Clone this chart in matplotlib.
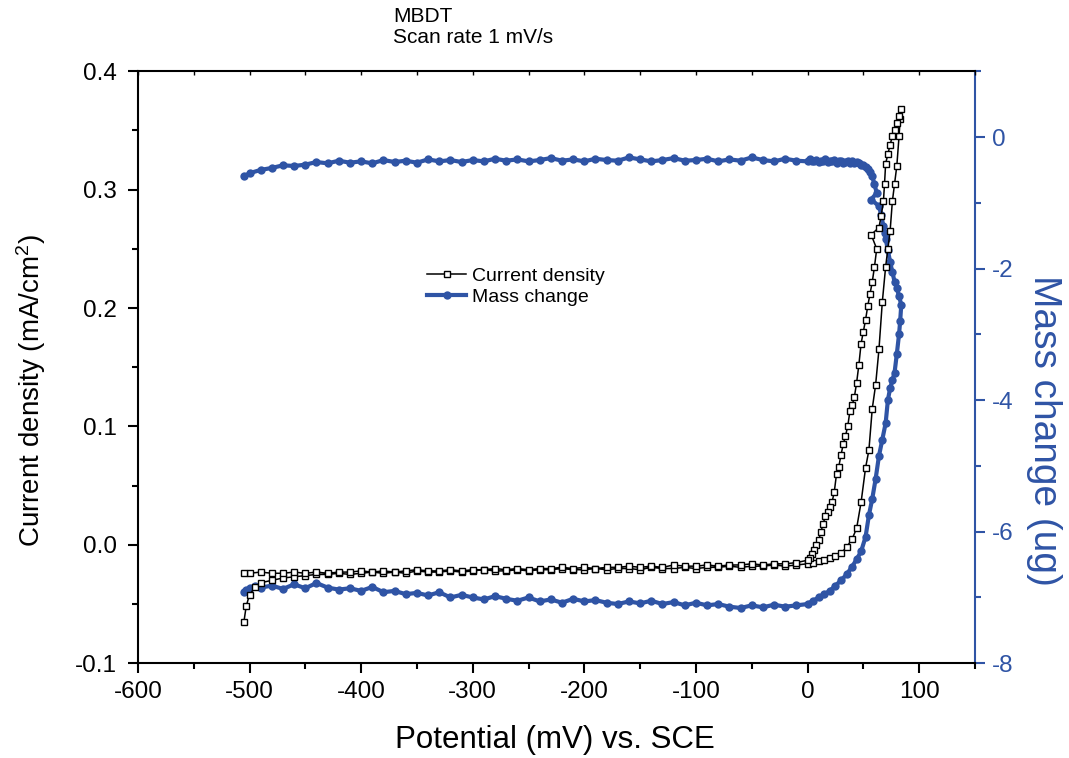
"""
    Current density and mass change (EQCM) versus potential for MBDT,
    scan rate 1 mV/s. Current on the left axis, mass on the right axis.
"""

import matplotlib.pyplot as plt
from matplotlib.ticker import MultipleLocator

# Forward scan (-505 mV -> +83 mV)
pot_fwd = [-505, -503, -500, -495, -490,
           -480, -470, -460, -450, -440, -430, -420, -410, -400, -390,
           -380, -370, -360, -350, -340, -330, -320, -310, -300, -290,
           -280, -270, -260, -250, -240, -230, -220, -210, -200, -190,
           -180, -170, -160, -150, -140, -130, -120, -110, -100, -90,
           -80, -70, -60, -50, -40, -30, -20, -10,
           0, 5, 10, 15, 20, 25, 30, 35, 40,
           44, 48, 52, 55, 58, 61, 64, 67, 70,
           72, 74, 76, 78, 80, 82, 83]

cur_fwd = [-0.065, -0.052, -0.042, -0.036, -0.032,
           -0.030, -0.028, -0.027, -0.026, -0.025, -0.025, -0.024, -0.025, -0.024, -0.023,
           -0.024, -0.023, -0.024, -0.022, -0.023, -0.023, -0.022, -0.023, -0.022, -0.021,
           -0.022, -0.022, -0.021, -0.022, -0.021, -0.021, -0.020, -0.021, -0.021, -0.020,
           -0.021, -0.020, -0.020, -0.021, -0.019, -0.020, -0.020, -0.019, -0.020, -0.019,
           -0.019, -0.018, -0.019, -0.018, -0.018, -0.017, -0.018, -0.017,
           -0.016, -0.015, -0.014, -0.013, -0.011, -0.009, -0.007, -0.002, 0.005,
           0.014, 0.036, 0.065, 0.080, 0.115, 0.135, 0.165, 0.205, 0.235,
           0.250, 0.265, 0.290, 0.305, 0.320, 0.345, 0.360]

mass_fwd = [-6.92, -6.88, -6.86, -6.83, -6.85,
            -6.82, -6.87, -6.80, -6.86, -6.78, -6.85, -6.88, -6.86, -6.90, -6.84,
            -6.92, -6.90, -6.95, -6.93, -6.97, -6.92, -7.00, -6.96, -7.00, -7.03,
            -6.98, -7.02, -7.05, -7.00, -7.06, -7.03, -7.08, -7.02, -7.06, -7.04,
            -7.08, -7.10, -7.06, -7.09, -7.05, -7.10, -7.07, -7.12, -7.08, -7.12,
            -7.10, -7.14, -7.16, -7.12, -7.15, -7.11, -7.14, -7.12,
            -7.10, -7.05, -7.00, -6.95, -6.90, -6.82, -6.74, -6.65, -6.53,
            -6.42, -6.30, -6.08, -5.75, -5.50, -5.20, -4.85, -4.60, -4.35,
            -4.00, -3.82, -3.70, -3.58, -3.30, -3.00, -2.80]

# Reverse scan (+84 mV -> -505 mV)
pot_rev = [84, 82, 80, 78, 76, 74, 72, 70, 69, 68,
           66, 64, 57, 62, 60, 58, 56, 54, 52, 50,
           48, 46, 44, 42, 40, 38, 36, 34, 32, 30,
           28, 26, 24, 22, 20, 18, 16, 14, 12, 10,
           8, 6, 4, 2, 0,
           -10, -20, -30, -40, -50, -60, -70, -80, -90, -100,
           -110, -120, -130, -140, -150, -160, -170, -180, -190, -200,
           -210, -220, -230, -240, -250, -260, -270, -280, -290, -300,
           -310, -320, -330, -340, -350, -360, -370, -380, -390, -400,
           -410, -420, -430, -440, -450, -460, -470, -480, -490, -500,
           -505]

cur_rev = [0.368, 0.362, 0.356, 0.350, 0.345, 0.338, 0.330, 0.322, 0.305, 0.290,
           0.278, 0.268, 0.262, 0.250, 0.235, 0.222, 0.212, 0.202, 0.190, 0.180,
           0.170, 0.152, 0.137, 0.125, 0.118, 0.113, 0.100, 0.092, 0.085, 0.076,
           0.066, 0.060, 0.045, 0.036, 0.032, 0.028, 0.024, 0.018, 0.011, 0.004,
           0.000, -0.004, -0.008, -0.011, -0.013,
           -0.015, -0.016, -0.016, -0.017, -0.016, -0.017, -0.017, -0.018, -0.017, -0.018,
           -0.018, -0.017, -0.019, -0.018, -0.019, -0.018, -0.019, -0.019, -0.020, -0.019,
           -0.020, -0.019, -0.020, -0.020, -0.021, -0.020, -0.021, -0.020, -0.021, -0.021,
           -0.022, -0.021, -0.022, -0.022, -0.021, -0.022, -0.023, -0.022, -0.023, -0.022,
           -0.023, -0.023, -0.024, -0.023, -0.024, -0.023, -0.024, -0.024, -0.023, -0.024,
           -0.024]

mass_rev = [-2.55, -2.42, -2.30, -2.20, -2.05, -1.90, -1.72, -1.55, -1.46, -1.36,
            -1.18, -1.05, -0.95, -0.85, -0.72, -0.60, -0.53, -0.48, -0.45, -0.43,
            -0.42, -0.40, -0.38, -0.40, -0.37, -0.39, -0.36, -0.38, -0.40, -0.37,
            -0.36, -0.39, -0.35, -0.37, -0.36, -0.38, -0.34, -0.37, -0.36, -0.38,
            -0.35, -0.37, -0.36, -0.34, -0.37,
            -0.36, -0.33, -0.37, -0.35, -0.31, -0.36, -0.34, -0.37, -0.33, -0.35,
            -0.36, -0.32, -0.35, -0.37, -0.34, -0.31, -0.36, -0.35, -0.33, -0.37,
            -0.34, -0.36, -0.32, -0.35, -0.37, -0.34, -0.36, -0.33, -0.37, -0.35,
            -0.38, -0.35, -0.37, -0.34, -0.39, -0.36, -0.38, -0.35, -0.40, -0.37,
            -0.39, -0.36, -0.40, -0.38, -0.42, -0.44, -0.43, -0.47, -0.50, -0.55,
            -0.60]

potential = pot_fwd + pot_rev
current = cur_fwd + cur_rev
mass = mass_fwd + mass_rev

blue = '#2f54a5'
tick_fs = 17.5

plt.rcParams['font.family'] = ['Liberation Sans', 'DejaVu Sans']
plt.rcParams['axes.unicode_minus'] = False
plt.rcParams['mathtext.fontset'] = 'custom'
plt.rcParams['mathtext.rm'] = 'Liberation Sans'
plt.rcParams['mathtext.default'] = 'regular'

fig = plt.figure(figsize=(10.69, 7.58), dpi=100)
ax = fig.add_axes([0.129, 0.125, 0.783, 0.781])
ax2 = ax.twinx()

# mass change (right axis)
l2, = ax2.plot(potential, mass, '-o', color=blue, linewidth=3.0,
               markersize=6.0, markeredgewidth=0, label='Mass change')

# current density (left axis), drawn on top
l1, = ax.plot(potential, current, '-s', color='black', linewidth=1.1,
              markersize=4.6, markerfacecolor='white', markeredgecolor='black',
              markeredgewidth=1.0, label='Current density')

ax.set_zorder(ax2.get_zorder() + 1)
ax.patch.set_visible(False)

ax.set_xlim(-600, 150)
ax.set_ylim(-0.1, 0.4)
ax2.set_ylim(-8, 1)

ax.xaxis.set_major_locator(MultipleLocator(100))
ax.xaxis.set_minor_locator(MultipleLocator(50))
ax.yaxis.set_major_locator(MultipleLocator(0.1))
ax.yaxis.set_minor_locator(MultipleLocator(0.05))
ax2.yaxis.set_major_locator(MultipleLocator(2))
ax2.yaxis.set_minor_locator(MultipleLocator(1))

ax.tick_params(which='major', direction='out', length=7, width=1.5, pad=6,
               labelsize=tick_fs, right=False, top=False)
ax.tick_params(axis='y', which='major', pad=8)
ax.tick_params(which='minor', direction='out', length=4, width=1.5,
               right=False, top=False)
ax2.tick_params(which='major', direction='out', length=7, width=1.5, pad=5,
                labelsize=tick_fs, colors=blue)
ax2.tick_params(which='minor', direction='out', length=4, width=1.5, colors=blue)

# small inward ticks on the top frame
top = ax.secondary_xaxis('top')
top.xaxis.set_major_locator(MultipleLocator(50))
top.tick_params(direction='in', length=3, width=1.0, labeltop=False)
top.spines['top'].set_visible(False)

for side in ['left', 'bottom', 'top']:
    ax.spines[side].set_linewidth(1.5)
ax.spines['right'].set_visible(False)
for side in ['left', 'bottom', 'top']:
    ax2.spines[side].set_visible(False)
ax2.spines['right'].set_color(blue)
ax2.spines['right'].set_linewidth(1.5)

ax.set_xlabel('Potential (mV) vs. SCE', fontsize=22.5)
ax.xaxis.set_label_coords(0.498, -0.105)
ax.set_ylabel('Current density (mA/cm$^2$)', fontsize=20)
ax.yaxis.set_label_coords(-0.108, 0.46)
ax2.set_ylabel('Mass change (ug)', fontsize=28, color=blue, rotation=270)
ax2.yaxis.set_label_coords(1.104, 0.394)

ax.legend(handles=[l1, l2], loc='upper left', bbox_to_anchor=(0.334, 0.685),
          frameon=False, fontsize=14, numpoints=1, handlelength=2.0,
          handletextpad=0.3, labelspacing=0.15, borderpad=0)

fig.text(393 / 1069, 1 - 7 / 758, 'MBDT\nScan rate 1 mV/s', fontsize=15,
         va='top', ha='left', linespacing=1.15)

plt.savefig('out.png', dpi=100)
